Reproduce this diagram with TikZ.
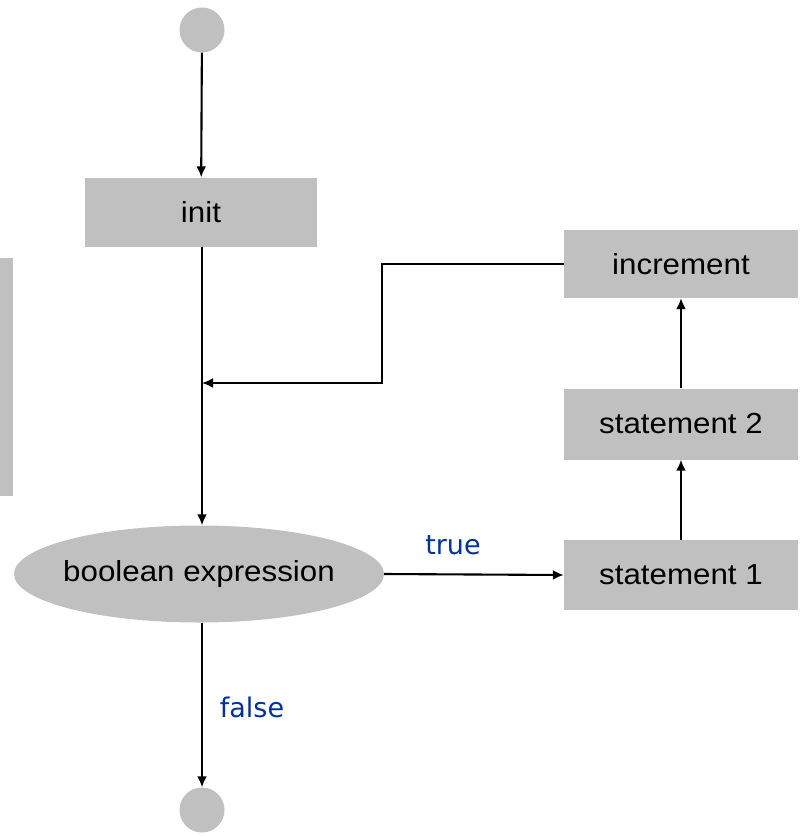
\documentclass[tikz,border=0pt]{standalone}
\usepackage{fontspec}
\setmainfont[FakeStretch=1.08]{Liberation Sans}
\newfontfamily\lblfont{DejaVu Sans}
\usetikzlibrary{arrows.meta,shapes.geometric}
\definecolor{boxgray}{RGB}{192,192,192}
\definecolor{lblblue}{RGB}{0,51,153}
\begin{document}
\begin{tikzpicture}[x=1pt,y=-1pt,
box/.style={%
fill=boxgray,
minimum width=234pt,
minimum height=69pt,
font=\fontsize{29}{33}\selectfont
},
term/.style={circle,fill=boxgray,minimum size=45pt,inner sep=0pt},
lbl/.style={text=lblblue,font=\lblfont\fontsize{27}{30}\selectfont},
flow/.style={line width=2.1pt,-{Latex[length=11pt,width=10pt]}}
]
\useasboundingbox (0,0) rectangle (801,836);
%% side bar
\node[fill=boxgray,minimum width=13pt,minimum height=238pt,inner sep=0pt]at(6.5,377)(side){};
%% start and init
\node[term]at(202,30)(start){};
\node[box,minimum width=232pt]at(201,212)(init){init};
\draw[flow](start)--(init);
%% condition
\node[ellipse,fill=boxgray,minimum width=370pt,minimum height=97pt,inner sep=0pt,
label={[font=\fontsize{29}{33}\selectfont]center:boolean expression}]at(199,574)(cond){};
\coordinate(merge)at(202,383);
\coordinate(jog)at(382,383);
\draw[line width=2.1pt](init.south-|merge)--(merge);
\draw[flow](merge)--(cond.north-|merge);
%% loop body
\node[box,minimum height=70pt]at(681,575)(s1){statement 1};
\node[box,minimum height=71pt]at(681,424)(s2){statement 2};
\node[box,minimum height=68pt]at(681,264)(inc){increment};
\draw[flow](cond.east)--(s1.west);
\node[lbl]at(453,545)(t){true};
\draw[flow](s1)--(s2);
\draw[flow](s2)--(inc);
\draw[flow](inc.west)-|(jog)--(merge);
%% exit
\node[term]at(202,810)(stop){};
\draw[flow](cond.south-|stop)--(stop);
\node[lbl]at(252,707)(f){false};
\end{tikzpicture}
\end{document}
